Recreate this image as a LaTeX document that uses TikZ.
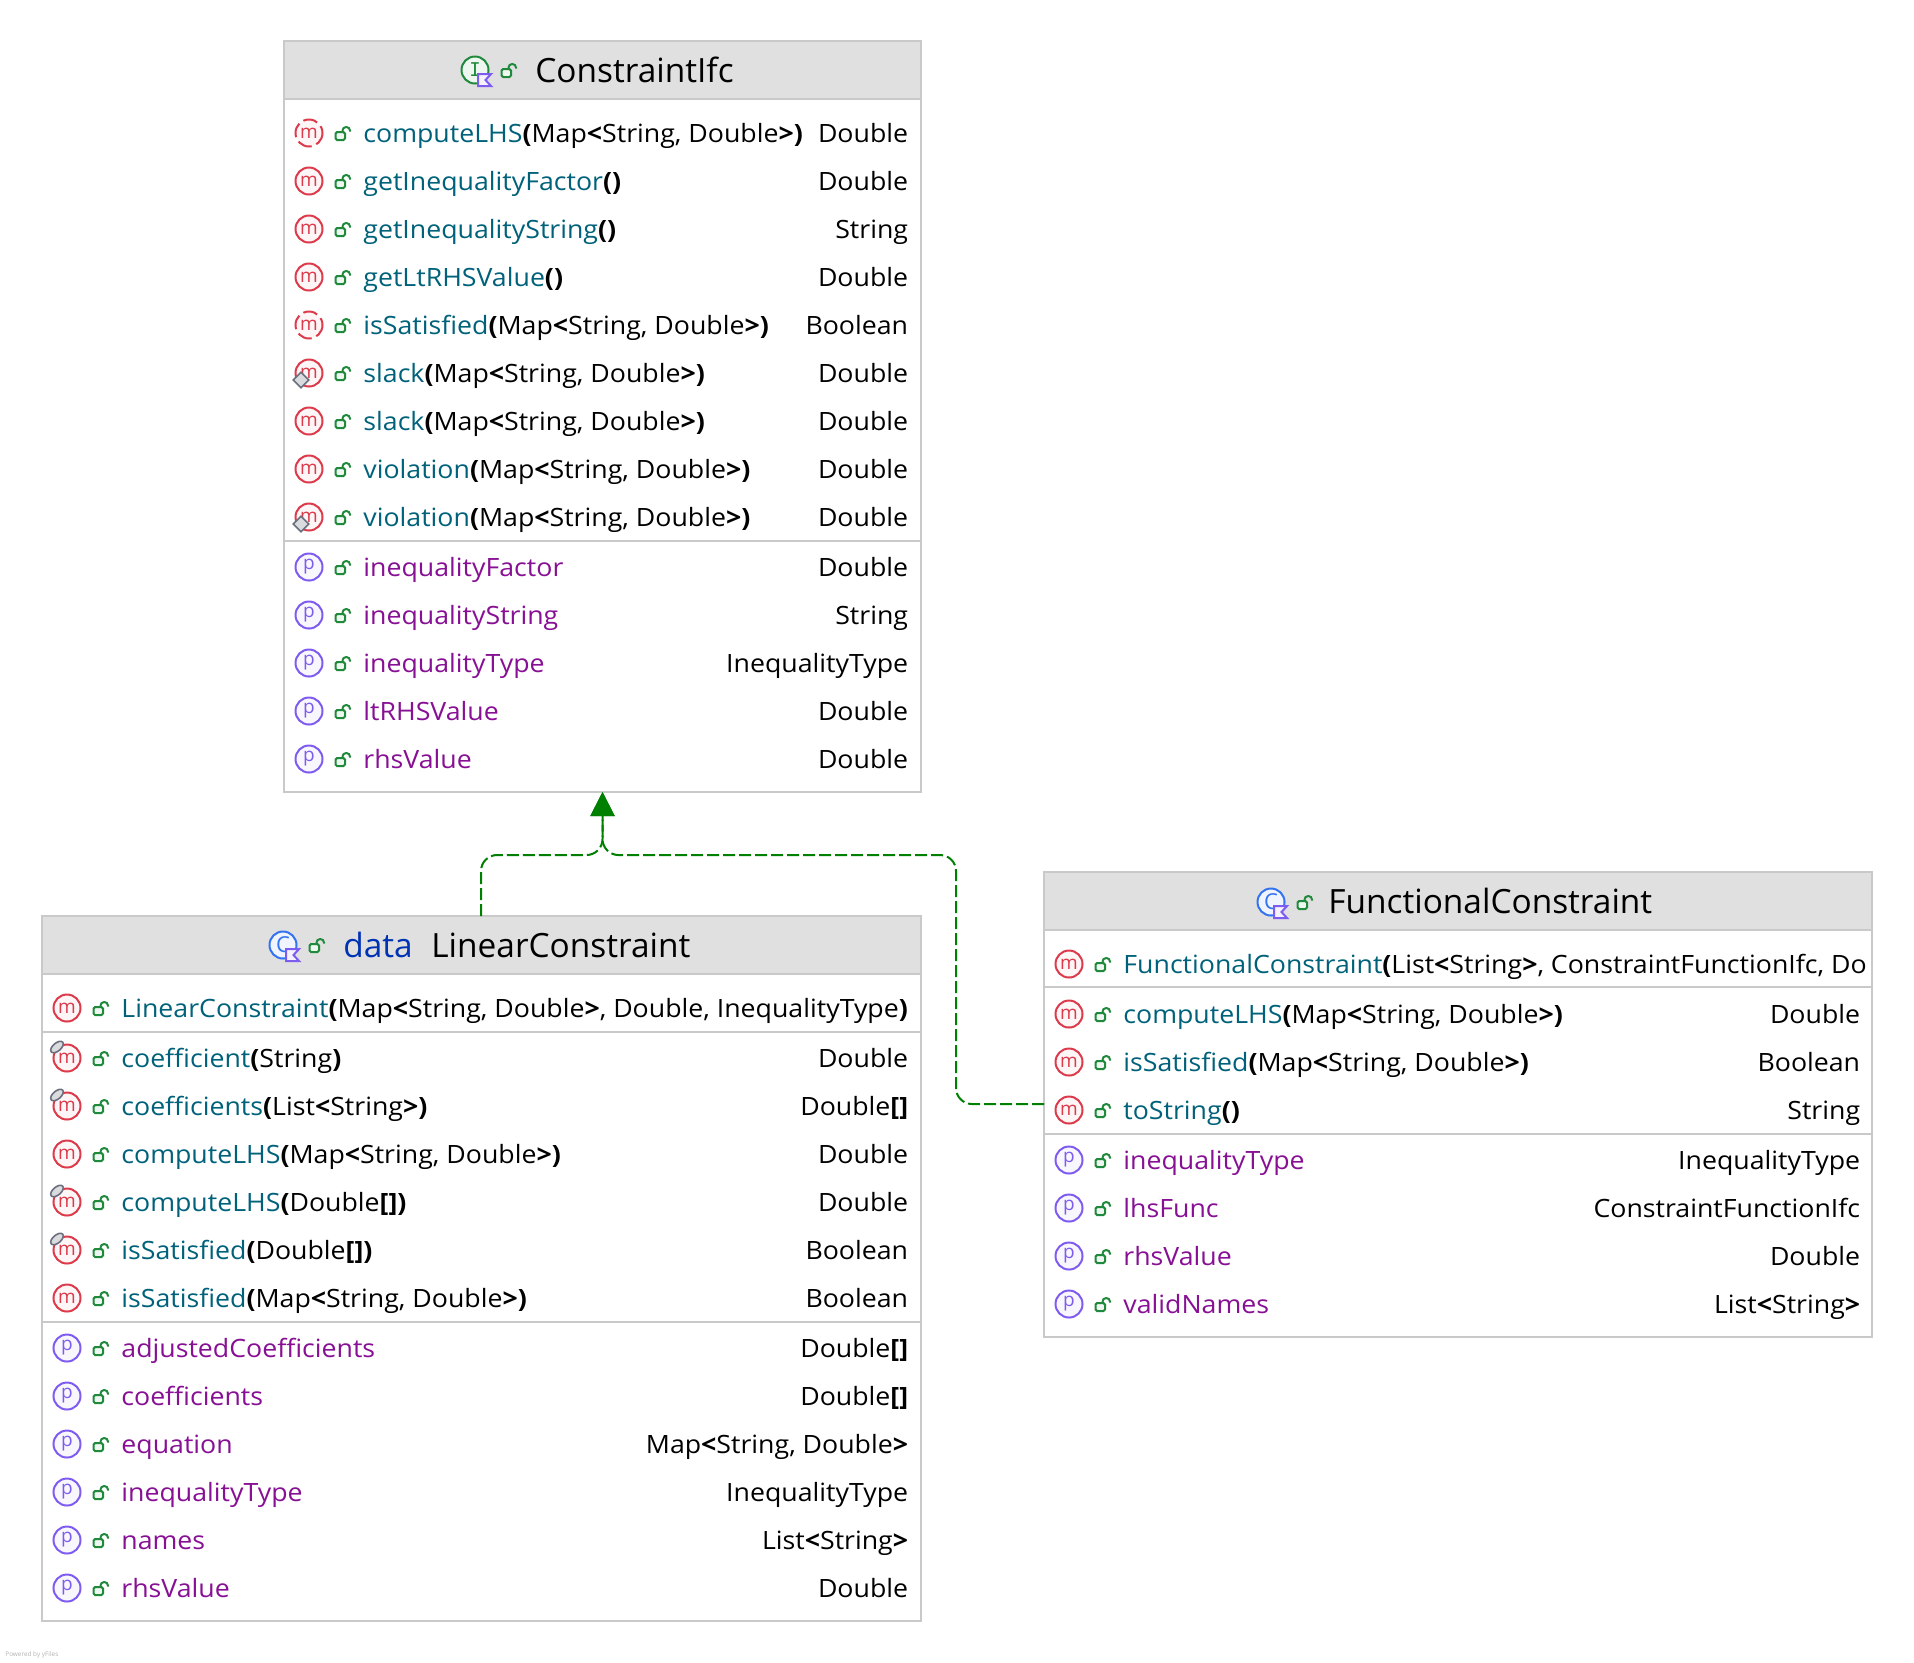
\documentclass[tikz,border=0pt]{standalone}
\usepackage{fontspec}
\setmainfont[FakeStretch=1.06]{Open Sans}
\newfontfamily\titlefont{Open Sans}
\newfontfamily\monoglyph{DejaVu Sans Mono}
\usetikzlibrary{arrows.meta,shapes.geometric}
\definecolor{boxline}{HTML}{C9C9C9}
\definecolor{headfill}{HTML}{E0E0E0}
\definecolor{methodcol}{HTML}{00627A}
\definecolor{propcol}{HTML}{871094}
\definecolor{keycol}{HTML}{0033B3}
\definecolor{mred}{HTML}{DB3B4B}
\definecolor{ppurple}{HTML}{7F5CF0}
\definecolor{lockgreen}{HTML}{208A3C}
\definecolor{cblue}{HTML}{3574F0}
\definecolor{markgrey}{HTML}{6C707E}
\definecolor{implgreen}{HTML}{008000}
\tikzset{
  classbox/.style={draw=boxline, line width=1pt, fill=white, inner sep=0pt, outer sep=0pt},
  headbox/.style={draw=boxline, line width=1pt, fill=headfill, inner sep=0pt, outer sep=0pt, anchor=north},
  sepline/.style={draw=boxline, line width=1pt},
  rowicon/.style={circle, minimum size=13.5pt, inner sep=0pt, line width=1pt, font=\fontsize{9.5}{10}\titlefont},
  methodicon/.style={rowicon, draw=mred, fill=mred!5, text=mred},
  absicon/.style={methodicon, dash pattern=on 7.3pt off 2.5pt, dash phase=3.65pt},
  propicon/.style={rowicon, draw=ppurple, fill=ppurple!5, text=ppurple},
  rowtext/.style={inner sep=0pt, font=\fontsize{12.6}{14}\selectfont},
  titletext/.style={inner sep=0pt, anchor=base west, font=\fontsize{16.7}{18}\titlefont},
  diamark/.style={diamond, draw=markgrey, fill=markgrey!25, line width=.8pt, minimum size=8pt, inner sep=0pt},
  pinmark/.style={ellipse, draw=markgrey, fill=markgrey!25, line width=.8pt, minimum width=7.5pt, minimum height=4pt, inner sep=0pt, rotate=40},
  ifcicon/.style={rowicon, draw=lockgreen, fill=lockgreen!8, text=lockgreen, font=\fontsize{9.5}{10}\monoglyph},
  clsicon/.style={rowicon, draw=cblue, fill=cblue!8, text=cblue, font=\fontsize{11}{12}\titlefont},
  lockline/.style={draw=lockgreen, line width=1pt},
  realizes/.style={draw=implgreen, line width=1pt, dash pattern=on 6pt off 2pt, rounded corners=8pt,
    -{Triangle[length=12pt,width=12pt,fill=implgreen]}},
  lockicon/.pic={
    \draw[lockline, fill=lockgreen!8, rounded corners=.8pt] (26.5,-1) rectangle (36,7);
    \draw[lockline, rounded corners=1.8pt] (33.5,-1) -- (33.5,-6) -- (41,-6) -- (41,-1.5);
  },
  flagicon/.pic={
    \draw[draw=ppurple, fill=ppurple!8, line width=1pt, line join=miter] (3,4) -- (16,4) -- (10.5,10) -- (16,16) -- (3,16) -- cycle;
  }
}
\newcommand{\mname}[1]{\textcolor{methodcol}{#1}}
\newcommand{\pname}[1]{\textcolor{propcol}{#1}}
\newcommand{\dl}[1]{\textbf{#1}}
\newcommand{\maparg}{Map\dl{<}String, Double\dl{>}}
% style, letter, name, y, text, type
\newcommand{\memberrow}[6]{
  \node[#1] (#3) at (\iconx,#4+1) {#2};
  \pic at (\iconx,#4+1) {lockicon};
  \node[rowtext, anchor=base west] (#3text) at (\iconx+54,#4+10.5) {#5};
  \node[rowtext, anchor=base east] (#3type) at (\typex,#4+10.5) {#6};
}
\newcommand{\sepat}[2]{\draw[sepline] (#1.west |- 0,#2) -- (#1.east |- 0,#2);}
\begin{document}
\begin{tikzpicture}[x=.5pt,y=-.5pt]
  \useasboundingbox (0,0) rectangle (1914,1662);

  % ConstraintIfc
  \node[classbox, minimum width=318.5pt, minimum height=375.5pt] (ifc) at (602.5,416.5) {};
  \node[headbox, minimum width=318.5pt, minimum height=29pt] (ifchead) at (ifc.north) {};
  \node[ifcicon] (ifcmark) at (475,70) {I};
  \pic at (475,70) {flagicon};
  \pic at (475,70) {lockicon};
  \node[titletext] (ifctitle) at (535,82.7) {ConstraintIfc};
  \def\iconx{309}\def\typex{908.5}
  \memberrow{absicon}{m}{ifcm1}{132}{\mname{computeLHS}\dl{(}\maparg\dl{)}}{Double}
  \memberrow{methodicon}{m}{ifcm2}{180}{\mname{getInequalityFactor}\dl{()}}{Double}
  \memberrow{methodicon}{m}{ifcm3}{228}{\mname{getInequalityString}\dl{()}}{String}
  \memberrow{methodicon}{m}{ifcm4}{276}{\mname{getLtRHSValue}\dl{()}}{Double}
  \memberrow{absicon}{m}{ifcm5}{324}{\mname{isSatisfied}\dl{(}\maparg\dl{)}}{Boolean}
  \memberrow{methodicon}{m}{ifcm6}{372}{\mname{slack}\dl{(}\maparg\dl{)}}{Double}
  \node[diamark] (ifcm6mark) at (301,380) {};
  \memberrow{methodicon}{m}{ifcm7}{420}{\mname{slack}\dl{(}\maparg\dl{)}}{Double}
  \memberrow{methodicon}{m}{ifcm8}{468}{\mname{violation}\dl{(}\maparg\dl{)}}{Double}
  \memberrow{methodicon}{m}{ifcm9}{516}{\mname{violation}\dl{(}\maparg\dl{)}}{Double}
  \node[diamark] (ifcm9mark) at (301,524) {};
  \sepat{ifc}{541}
  \memberrow{propicon}{p}{ifcp1}{566}{\pname{inequalityFactor}}{Double}
  \memberrow{propicon}{p}{ifcp2}{614}{\pname{inequalityString}}{String}
  \memberrow{propicon}{p}{ifcp3}{662}{\pname{inequalityType}}{InequalityType}
  \memberrow{propicon}{p}{ifcp4}{710}{\pname{ltRHSValue}}{Double}
  \memberrow{propicon}{p}{ifcp5}{758}{\pname{rhsValue}}{Double}

  % LinearConstraint
  \node[classbox, minimum width=439.5pt, minimum height=352.5pt] (lin) at (481.5,1268.5) {};
  \node[headbox, minimum width=439.5pt, minimum height=29pt] (linhead) at (lin.north) {};
  \node[clsicon] (linmark) at (283,945) {C};
  \pic at (283,945) {flagicon};
  \pic at (283,945) {lockicon};
  \node[titletext, text=keycol] (lindata) at (343,957.7) {data};
  \node[titletext] (lintitle) at (431,957.7) {LinearConstraint};
  \def\iconx{67}\def\typex{908.5}
  \memberrow{methodicon}{m}{linc1}{1007}{\mname{LinearConstraint}\dl{(}\maparg, Double, InequalityType\dl{)}}{}
  \sepat{lin}{1032}
  \memberrow{methodicon}{m}{linm1}{1057}{\mname{coefficient}\dl{(}String\dl{)}}{Double}
  \node[pinmark] (linm1mark) at (57,1047) {};
  \memberrow{methodicon}{m}{linm2}{1105}{\mname{coefficients}\dl{(}List\dl{<}String\dl{>}\dl{)}}{Double\dl{[]}}
  \node[pinmark] (linm2mark) at (57,1095) {};
  \memberrow{methodicon}{m}{linm3}{1153}{\mname{computeLHS}\dl{(}\maparg\dl{)}}{Double}
  \memberrow{methodicon}{m}{linm4}{1201}{\mname{computeLHS}\dl{(}Double\dl{[])}}{Double}
  \node[pinmark] (linm4mark) at (57,1191) {};
  \memberrow{methodicon}{m}{linm5}{1249}{\mname{isSatisfied}\dl{(}Double\dl{[])}}{Boolean}
  \node[pinmark] (linm5mark) at (57,1239) {};
  \memberrow{methodicon}{m}{linm6}{1297}{\mname{isSatisfied}\dl{(}\maparg\dl{)}}{Boolean}
  \sepat{lin}{1322}
  \memberrow{propicon}{p}{linp1}{1347}{\pname{adjustedCoefficients}}{Double\dl{[]}}
  \memberrow{propicon}{p}{linp2}{1395}{\pname{coefficients}}{Double\dl{[]}}
  \memberrow{propicon}{p}{linp3}{1443}{\pname{equation}}{\maparg}
  \memberrow{propicon}{p}{linp4}{1491}{\pname{inequalityType}}{InequalityType}
  \memberrow{propicon}{p}{linp5}{1539}{\pname{names}}{List\dl{<}String\dl{>}}
  \memberrow{propicon}{p}{linp6}{1587}{\pname{rhsValue}}{Double}

  % FunctionalConstraint
  \node[classbox, minimum width=414pt, minimum height=232.5pt] (fun) at (1458,1104.5) {};
  \node[headbox, minimum width=414pt, minimum height=29pt] (funhead) at (fun.north) {};
  \node[clsicon] (funmark) at (1271,902) {C};
  \pic at (1271,902) {flagicon};
  \pic at (1271,902) {lockicon};
  \node[titletext] (funtitle) at (1328,913.3) {FunctionalConstraint};
  \def\iconx{1069}\def\typex{1860.5}
  \begin{scope}
    \clip (fun.north west) rectangle (fun.south east);
    \memberrow{methodicon}{m}{func1}{963}{\mname{FunctionalConstraint}\dl{(}List\dl{<}String\dl{>}, ConstraintFunctionIfc, Do}{}
  \end{scope}
  \sepat{fun}{987}
  \memberrow{methodicon}{m}{funm1}{1013}{\mname{computeLHS}\dl{(}\maparg\dl{)}}{Double}
  \memberrow{methodicon}{m}{funm2}{1061}{\mname{isSatisfied}\dl{(}\maparg\dl{)}}{Boolean}
  \memberrow{methodicon}{m}{funm3}{1109}{\mname{toString}\dl{()}}{String}
  \sepat{fun}{1134}
  \memberrow{propicon}{p}{funp1}{1159}{\pname{inequalityType}}{InequalityType}
  \memberrow{propicon}{p}{funp2}{1207}{\pname{lhsFunc}}{ConstraintFunctionIfc}
  \memberrow{propicon}{p}{funp3}{1255}{\pname{rhsValue}}{Double}
  \memberrow{propicon}{p}{funp4}{1303}{\pname{validNames}}{List\dl{<}String\dl{>}}

  % realizations
  \coordinate (linport) at (481,916);
  \coordinate (funport) at (1044,1104);
  \draw[realizes] (linport) -- (481,855) -- (602.5,855) -- (ifc.south);
  \draw[realizes] (funport) -- (956,1104) -- (956,855) -- (602.5,855) -- (ifc.south);

  \node[anchor=base west, inner sep=0pt, text=black!30, font=\fontsize{3.2}{4}\titlefont] (yfiles) at (5,1656) {Powered by yFiles};
\end{tikzpicture}
\end{document}
